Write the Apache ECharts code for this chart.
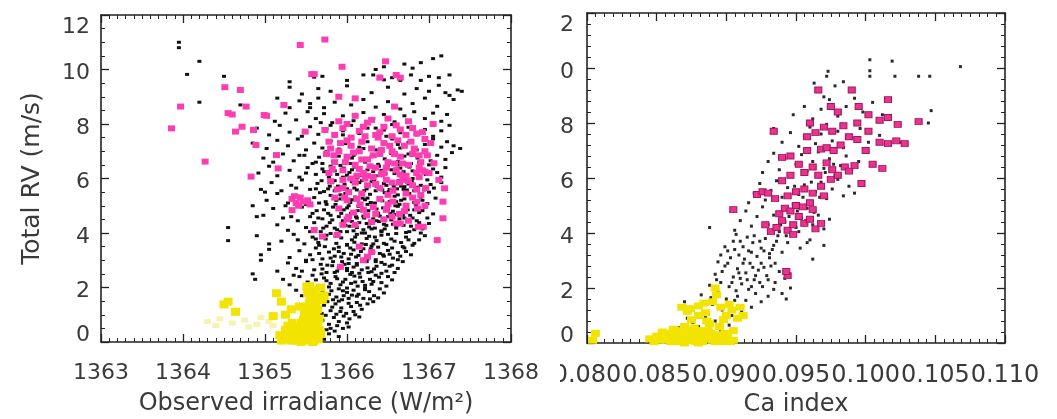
<!DOCTYPE html>
<html><head><meta charset="utf-8">
<script src="https://cdn.jsdelivr.net/npm/echarts@6/dist/echarts.min.js"></script>
<style>
html,body{margin:0;padding:0;background:#fff;width:1057px;height:419px;overflow:hidden;}
#c1{position:absolute;left:0;top:0;width:560px;height:419px;}
#c2{position:absolute;left:560px;top:0;width:497px;height:419px;}
</style></head><body>
<div id="c1"></div><div id="c2"></div>
<script>
// ---------- LEFT PANEL DATA: [observed irradiance (W/m^2), total RV (m/s)] ----------
const leftXTicks = [1363, 1364, 1365, 1366, 1367, 1368];
const leftYTicks = [0, 2, 4, 6, 8, 10, 12];
const leftBlack = [
[1365.72,0.1],[1365.78,0.3],[1365.85,0.4],[1365.9,0.2],[1365.95,0.5],[1365.8,0.5],[1365.75,0.45],[1366.02,0.55],
[1365.62,0.7],[1365.7,0.8],[1365.78,0.65],[1365.84,0.9],[1365.9,0.75],[1365.96,0.95],[1366.03,0.85],[1366.1,1.0],[1365.88,0.6],[1366.15,0.92],[1365.74,0.98],[1366.0,0.7],
[1365.58,1.2],[1365.66,1.1],[1365.72,1.35],[1365.8,1.15],[1365.86,1.4],[1365.93,1.25],[1365.99,1.05],[1366.05,1.3],[1366.12,1.45],[1366.18,1.2],[1366.25,1.4],[1366.32,1.48],[1365.9,1.5],[1366.08,1.12],[1365.76,1.48],
[1365.38,1.9],[1365.45,1.7],[1365.6,1.6],[1365.7,1.85],[1365.78,1.75],[1365.83,1.55],[1365.9,1.95],[1365.96,1.7],[1366.02,1.6],[1366.08,1.9],[1366.14,1.75],[1366.2,1.6],[1366.27,1.85],[1366.33,1.7],[1366.4,1.95],[1366.45,1.8],[1365.87,1.65],[1366.0,1.82],[1366.22,1.98],
[1365.22,2.3],[1365.3,2.1],[1365.42,2.4],[1365.52,2.2],[1365.58,2.45],[1365.65,2.05],[1365.72,2.35],[1365.8,2.15],[1365.86,2.4],[1365.92,2.1],[1365.98,2.3],[1366.04,2.48],[1366.1,2.2],[1366.16,2.38],[1366.22,2.08],[1366.28,2.3],[1366.35,2.45],[1366.42,2.18],[1366.5,2.4],[1366.55,2.28],[1365.95,2.2],[1366.13,2.05],[1366.3,2.12],
[1365.15,2.6],[1365.28,2.9],[1365.38,2.7],[1365.5,2.95],[1365.6,2.65],[1365.68,2.85],[1365.75,2.55],[1365.82,2.8],[1365.88,2.6],[1365.94,2.95],[1366.0,2.7],[1366.06,2.55],[1366.12,2.88],[1366.18,2.65],[1366.24,2.95],[1366.3,2.58],[1366.36,2.78],[1366.42,2.92],[1366.48,2.6],[1366.55,2.82],[1366.62,2.7],[1366.68,2.95],[1366.08,2.75],[1365.97,2.85],
[1364.95,3.2],[1365.05,3.4],[1365.3,3.1],[1365.42,3.35],[1365.55,3.2],[1365.62,3.45],[1365.7,3.05],[1365.78,3.3],[1365.85,3.15],[1365.9,3.48],[1365.96,3.25],[1366.02,3.05],[1366.08,3.38],[1366.14,3.18],[1366.2,3.42],[1366.26,3.1],[1366.32,3.3],[1366.38,3.48],[1366.44,3.2],[1366.5,3.36],[1366.56,3.08],[1366.62,3.28],[1366.7,3.45],[1366.78,3.2],[1366.05,3.22],[1366.35,3.02],
[1364.9,3.9],[1365.2,3.7],[1365.35,3.95],[1365.48,3.6],[1365.58,3.85],[1365.66,3.55],[1365.74,3.78],[1365.8,3.98],[1365.87,3.62],[1365.93,3.82],[1366.0,3.55],[1366.06,3.75],[1366.12,3.95],[1366.18,3.6],[1366.24,3.8],[1366.3,3.52],[1366.36,3.72],[1366.42,3.92],[1366.48,3.58],[1366.54,3.78],[1366.6,3.98],[1366.66,3.65],[1366.72,3.85],[1366.8,3.55],[1366.88,3.75],[1366.95,3.9],[1366.27,3.88],[1366.09,3.66],
[1364.55,4.2],[1364.55,3.72],[1365.15,4.3],[1365.28,4.1],[1365.4,4.45],[1365.5,4.2],[1365.6,4.38],[1365.68,4.05],[1365.75,4.25],[1365.82,4.48],[1365.88,4.12],[1365.94,4.32],[1366.0,4.05],[1366.06,4.42],[1366.12,4.2],[1366.18,4.0],[1366.24,4.35],[1366.3,4.15],[1366.36,4.45],[1366.42,4.08],[1366.48,4.28],[1366.54,4.48],[1366.6,4.18],[1366.66,4.38],[1366.72,4.02],[1366.78,4.25],[1366.85,4.45],[1366.92,4.15],[1367.0,4.35],[1366.03,4.25],[1366.45,4.32],
[1364.98,4.65],[1365.1,4.9],[1365.22,4.55],[1365.32,4.8],[1365.45,4.95],[1365.55,4.6],[1365.63,4.82],[1365.7,4.52],[1365.77,4.72],[1365.83,4.95],[1365.9,4.6],[1365.96,4.85],[1366.02,4.55],[1366.08,4.75],[1366.14,4.98],[1366.2,4.62],[1366.26,4.82],[1366.32,4.52],[1366.38,4.72],[1366.44,4.92],[1366.5,4.6],[1366.56,4.8],[1366.62,4.98],[1366.68,4.65],[1366.74,4.85],[1366.8,4.55],[1366.88,4.75],[1366.95,4.95],[1367.05,4.7],[1366.11,4.6],[1366.59,4.68],
[1365.02,5.2],[1365.15,5.45],[1365.28,5.1],[1365.4,5.35],[1365.5,5.05],[1365.6,5.3],[1365.67,5.48],[1365.74,5.15],[1365.8,5.38],[1365.86,5.05],[1365.92,5.25],[1365.98,5.45],[1366.04,5.12],[1366.1,5.32],[1366.16,5.02],[1366.22,5.22],[1366.28,5.42],[1366.34,5.1],[1366.4,5.3],[1366.46,5.48],[1366.52,5.15],[1366.58,5.35],[1366.64,5.05],[1366.7,5.25],[1366.76,5.45],[1366.82,5.12],[1366.9,5.32],[1366.98,5.08],[1367.08,5.28],[1366.25,5.05],
[1364.95,5.6],[1365.08,5.85],[1365.2,5.55],[1365.32,5.75],[1365.45,5.95],[1365.55,5.6],[1365.64,5.82],[1365.72,5.52],[1365.79,5.72],[1365.85,5.92],[1365.91,5.58],[1365.97,5.78],[1366.03,5.98],[1366.09,5.65],[1366.15,5.85],[1366.21,5.55],[1366.27,5.75],[1366.33,5.95],[1366.39,5.62],[1366.45,5.82],[1366.51,5.52],[1366.57,5.72],[1366.63,5.92],[1366.69,5.6],[1366.75,5.8],[1366.82,5.55],[1366.9,5.75],[1366.98,5.95],[1367.06,5.65],[1367.15,5.85],
[1364.92,6.2],[1365.05,6.45],[1365.15,6.1],[1365.3,6.3],[1365.42,6.05],[1365.52,6.4],[1365.62,6.15],[1365.7,6.35],[1365.78,6.05],[1365.85,6.28],[1365.92,6.48],[1366.0,6.12],[1366.06,6.32],[1366.12,6.02],[1366.2,6.22],[1366.28,6.42],[1366.35,6.1],[1366.42,6.3],[1366.5,6.48],[1366.58,6.18],[1366.65,6.38],[1366.72,6.08],[1366.8,6.28],[1366.88,6.45],[1366.96,6.15],[1367.05,6.35],[1367.15,6.05],[1367.2,6.4],
[1364.98,6.75],[1365.1,6.6],[1365.22,6.9],[1365.35,6.65],[1365.48,6.85],[1365.58,6.55],[1365.66,6.78],[1365.75,6.98],[1365.83,6.62],[1365.9,6.82],[1365.98,6.55],[1366.06,6.75],[1366.14,6.95],[1366.22,6.6],[1366.3,6.8],[1366.38,6.52],[1366.46,6.72],[1366.54,6.92],[1366.62,6.62],[1366.7,6.82],[1366.78,6.55],[1366.86,6.75],[1366.94,6.95],[1367.02,6.65],[1367.1,6.85],[1367.2,6.7],[1367.28,6.95],
[1364.85,7.3],[1365.02,7.1],[1365.15,7.4],[1365.28,7.2],[1365.4,7.45],[1365.5,7.05],[1365.6,7.3],[1365.7,7.12],[1365.8,7.38],[1365.9,7.08],[1365.98,7.28],[1366.06,7.48],[1366.15,7.15],[1366.25,7.35],[1366.35,7.05],[1366.45,7.25],[1366.55,7.45],[1366.65,7.12],[1366.75,7.32],[1366.85,7.05],[1366.95,7.25],[1367.05,7.45],[1367.15,7.15],[1367.22,7.35],[1367.3,7.2],[1367.38,7.1],
[1364.9,7.85],[1365.05,7.6],[1365.18,7.95],[1365.3,7.7],[1365.45,7.55],[1365.55,7.9],[1365.65,7.62],[1365.75,7.82],[1365.85,7.55],[1365.95,7.75],[1366.05,7.95],[1366.15,7.65],[1366.25,7.85],[1366.35,7.58],[1366.45,7.78],[1366.55,7.98],[1366.65,7.68],[1366.75,7.88],[1366.85,7.6],[1366.95,7.8],[1367.05,7.55],[1367.15,7.75],[1367.25,7.95],
[1365.0,8.3],[1365.12,8.1],[1365.25,8.4],[1365.38,8.15],[1365.52,8.45],[1365.62,8.2],[1365.72,8.38],[1365.82,8.05],[1365.95,8.3],[1366.08,8.12],[1366.2,8.42],[1366.32,8.2],[1366.45,8.35],[1366.58,8.08],[1366.7,8.3],[1366.82,8.45],[1366.95,8.2],[1367.05,8.4],[1367.15,8.1],[1367.22,8.35],
[1364.7,8.7],[1365.15,8.95],[1365.3,8.6],[1365.42,8.85],[1365.55,8.75],[1365.65,8.95],[1365.72,8.6],[1365.85,8.8],[1366.05,8.7],[1366.2,8.9],[1366.35,8.62],[1366.5,8.82],[1366.65,8.55],[1366.8,8.75],[1366.95,8.95],[1367.1,8.65],[1367.3,8.9],[1364.2,8.8],
[1365.3,9.35],[1365.45,9.1],[1365.65,9.3],[1365.8,9.2],[1366.0,9.4],[1366.3,9.15],[1366.5,9.35],[1366.7,9.1],[1366.85,9.3],[1367.0,9.2],[1367.12,9.42],[1367.2,9.15],[1367.35,9.25],[1367.4,9.2],[1367.25,9.05],
[1364.5,9.75],[1364.05,9.82],[1365.3,9.55],[1365.6,9.72],[1365.7,9.75],[1366.0,9.6],[1366.2,9.8],[1366.32,9.8],[1366.4,9.75],[1366.45,9.62],[1366.55,9.7],[1366.65,9.6],[1366.78,9.8],[1366.9,9.6],[1367.0,9.75],[1367.12,9.7],[1367.25,9.8],
[1363.95,11.0],[1363.95,10.8],[1364.2,10.3],[1366.9,10.25],[1367.15,10.5],[1367.05,10.4],[1366.35,10.0],[1366.45,10.1],[1366.8,10.05],[1366.7,10.2],
[1364.85,2.5],[1364.88,2.3],[1364.95,3.0],[1364.85,5.0],[1364.9,4.6],[1365.0,5.5],[1365.05,3.6]
];
const leftBlackCore = [
[1365.65,1.95],[1365.75,2.25],[1365.85,2.55],[1365.95,1.88],[1366.05,2.15],[1366.15,2.52],[1366.25,2.72],[1366.35,2.95],[1366.45,3.15],[1365.7,2.68],[1365.8,3.08],[1365.9,3.32],[1366.0,3.58],[1366.1,3.85],[1366.2,4.12],[1366.3,4.38],[1366.4,4.62],[1366.5,4.88],[1366.6,5.15],
[1365.65,3.65],[1365.75,3.92],[1365.85,4.18],[1365.95,4.45],[1366.05,4.72],[1366.15,5.0],[1366.25,5.28],[1366.35,5.55],[1365.55,4.05],[1365.65,4.55],[1365.75,5.05],[1365.85,5.55],[1365.95,6.05],[1366.05,6.55],[1366.7,5.7],[1366.8,6.0],[1366.6,6.35],
[1366.5,3.95],[1366.6,4.25],[1366.7,4.55],[1366.75,3.75],[1366.55,3.45],[1366.4,3.25],[1366.25,3.05],[1366.12,2.82],[1366.0,2.62],[1365.88,2.32],[1365.78,2.02],[1365.68,1.72],[1365.82,1.28],[1365.92,1.12],[1366.02,1.42],[1366.12,1.68],[1366.22,1.92],[1366.32,2.22],[1366.42,2.52],[1366.52,2.78],[1366.62,3.02],[1366.72,3.32],[1366.82,3.62],[1366.9,4.0],[1366.98,4.55],
[1365.5,3.0],[1365.45,2.6],[1365.35,2.45],[1365.4,3.75],[1365.32,4.6],[1365.25,5.0],[1365.38,5.65],[1365.5,6.2],[1365.42,6.85],[1365.62,6.6],[1365.72,6.25],[1365.82,5.85],[1365.92,5.4],[1366.02,5.0],[1366.12,4.55],[1366.22,4.0],[1366.32,3.6],[1366.42,4.05],[1366.52,5.6],[1366.62,5.4],[1366.72,5.05],[1366.82,4.85],[1366.92,5.2],[1367.0,5.5],
[1366.88,6.6],[1366.75,6.9],[1366.62,7.25],[1366.48,7.55],[1366.35,7.85],[1366.2,7.1],[1366.08,6.85],[1365.95,7.6],[1365.8,7.95],[1365.68,8.05],[1365.55,8.6],
[1365.63,1.45],[1365.69,1.05],[1365.74,1.62],[1365.81,1.88],[1365.87,1.02],[1365.94,1.55],[1366.0,1.98],[1366.06,1.72],[1366.16,1.35],[1366.28,1.58],[1366.38,1.62],[1366.48,2.05],[1365.62,2.28],[1365.69,2.5],[1365.76,2.82],[1365.83,2.95],[1365.9,2.7],[1366.02,2.88],[1366.09,2.42],[1366.19,2.22],[1366.26,2.55],[1366.33,2.68],[1366.39,2.38],[1366.46,2.85],[1366.58,2.55],[1366.65,3.15],
[1365.58,3.02],[1365.66,3.25],[1365.73,3.5],[1365.84,3.42],[1365.93,3.12],[1366.04,3.45],[1366.11,3.12],[1366.17,3.32],[1366.23,3.58],[1366.29,3.42],[1366.34,3.85],[1366.45,3.62],[1366.52,3.22],[1366.58,3.7],[1366.68,3.5],[1366.76,4.05],[1365.62,3.78],[1365.71,4.18],[1365.79,4.38],[1365.86,3.88],[1365.92,4.05],[1365.98,4.28],[1366.08,4.08],[1366.15,4.38],[1366.21,4.55],[1366.27,4.22],[1366.34,4.18],[1366.39,4.42],[1366.46,4.15],[1366.56,4.32],[1366.64,4.52],[1366.69,4.28],[1366.82,4.12],[1366.88,4.38],
[1365.58,4.72],[1365.66,5.1],[1365.72,4.85],[1365.8,4.65],[1365.87,5.2],[1365.93,4.72],[1366.0,4.92],[1366.06,5.22],[1366.13,4.82],[1366.19,5.28],[1366.29,5.12],[1366.36,4.88],[1366.43,5.18],[1366.53,4.72],[1366.59,5.0],[1366.66,5.2],[1366.77,4.65],[1366.84,5.02],[1366.92,4.82],
[1365.62,5.62],[1365.69,5.92],[1365.77,5.62],[1365.89,5.72],[1366.0,5.62],[1366.06,5.88],[1366.12,5.58],[1366.18,5.92],[1366.24,5.62],[1366.3,5.88],[1366.36,5.72],[1366.43,5.58],[1366.48,5.75],[1366.55,5.88],[1366.61,5.62],[1366.66,5.72],[1366.73,5.58],[1366.79,5.9],[1366.86,5.68],[1366.94,5.58],[1367.02,5.78],
[1365.7,6.55],[1365.8,6.45],[1365.88,6.15],[1365.96,6.38],[1366.03,6.22],[1366.1,6.42],[1366.17,6.12],[1366.25,6.32],[1366.32,6.25],[1366.39,6.45],[1366.47,6.18],[1366.54,6.32],[1366.62,6.5],[1366.69,6.25],[1366.76,6.42],[1366.84,6.18],[1366.92,6.32],[1367.0,6.5],[1367.1,6.22]
];
const leftMagenta = [
[1363.86,7.84],[1363.97,8.64],[1364.27,6.62],[1364.51,9.35],[1364.55,8.4],[1364.6,8.35],[1364.64,7.72],[1364.7,9.25],[1364.72,7.9],[1364.77,8.64],[1364.83,6.07],[1364.86,7.78],[1364.89,7.23],[1364.99,8.33],[1365.02,8.3],[1365.14,6.86],[1365.16,6.37],[1365.23,8.7],[1365.43,10.9],[1365.73,11.1],[1365.57,9.83],[1365.6,9.83],[1365.9,9.0],[1365.94,10.1],[1366.1,8.94],[1366.47,10.3],[1366.4,9.7],[1366.6,9.8],[1366.58,8.64],[1365.49,7.72],[1365.73,7.78],[1366.65,9.7],
[1365.33,5.25],[1365.38,5.1],[1365.43,5.3],[1365.47,5.15],[1365.52,5.2],[1365.55,5.05],[1365.36,5.35],[1365.33,4.84],[1365.41,5.0],
[1365.6,4.11],[1365.7,3.87],[1365.88,3.93],[1366.25,3.13],[1366.2,3.0],[1365.92,2.76],[1366.3,3.3],[1366.02,4.6],[1365.95,4.3],[1366.15,3.5],
[1367.06,6.56],[1367.12,5.95],[1367.19,5.64],[1367.17,5.15],[1367.17,4.54],[1367.1,3.74],[1366.93,4.23],[1366.87,4.23],[1366.75,4.45],[1366.65,4.35],[1366.55,4.6],[1366.95,5.0],[1366.9,5.4],
[1365.75,6.9],[1365.8,7.1],[1365.85,6.6],[1365.9,7.0],[1365.95,6.3],[1366.0,6.8],[1366.05,7.2],[1366.1,6.5],[1366.15,7.0],[1366.2,6.2],[1366.25,6.7],[1366.3,7.1],[1366.35,6.4],[1366.4,6.9],[1366.45,7.3],[1366.5,6.6],[1366.55,7.0],[1366.6,6.3],[1366.65,6.8],[1366.7,7.2],[1366.75,6.5],[1366.8,6.9],[1366.85,6.2],[1366.9,6.6],[1366.95,7.0],
[1365.8,5.9],[1365.88,5.6],[1365.95,5.95],[1366.02,5.5],[1366.1,5.85],[1366.18,5.45],[1366.25,5.75],[1366.32,6.05],[1366.4,5.65],[1366.48,5.95],[1366.56,5.55],[1366.64,5.85],[1366.72,5.45],[1366.8,5.75],[1366.88,6.05],[1366.96,5.65],
[1365.9,4.9],[1366.0,5.2],[1366.08,4.75],[1366.16,5.05],[1366.24,4.65],[1366.32,4.95],[1366.4,5.25],[1366.48,4.85],[1366.56,5.15],[1366.64,4.7],[1366.72,5.0],[1366.8,5.3],[1366.86,4.9],
[1365.85,7.6],[1365.95,7.85],[1366.05,7.5],[1366.15,7.75],[1366.25,8.05],[1366.35,7.6],[1366.45,7.9],[1366.55,7.55],[1366.65,7.8],[1366.75,8.1],[1366.85,7.65],[1366.95,7.45],[1366.5,8.2],[1366.3,8.15],
[1365.82,6.35],[1365.98,6.6],[1366.12,6.1],[1366.28,6.45],[1366.42,6.15],[1366.58,6.55],[1366.72,6.1],[1366.88,6.4],[1366.38,7.5],[1366.62,7.4],[1366.18,7.35],[1366.78,7.35],[1365.9,8.1],[1366.1,8.3],[1365.97,5.3],[1366.12,5.25],[1366.5,5.4],[1366.68,5.95],[1366.22,6.0],[1366.6,4.35],[1366.45,4.5],[1366.3,4.4],[1366.1,4.3],[1366.98,6.85],[1367.02,7.3],[1366.92,7.7],[1367.05,8.0],
[1365.78,6.2],[1365.84,6.85],[1365.92,7.3],[1366.0,7.4],[1366.08,6.95],[1366.18,6.7],[1366.22,7.55],[1366.32,6.85],[1366.42,7.05],[1366.48,6.4],[1366.52,7.2],[1366.58,6.9],[1366.68,6.55],[1366.72,7.6],[1366.82,7.1],[1366.88,6.85],[1366.92,6.3],[1367.0,6.2],
[1365.85,5.3],[1365.95,5.65],[1366.05,6.0],[1366.15,6.35],[1366.25,6.1],[1366.35,5.8],[1366.45,6.2],[1366.55,5.85],[1366.65,6.15],[1366.75,5.9],[1366.85,5.6],[1366.95,6.25],[1366.0,4.5],[1366.2,4.85],[1366.35,4.7],[1366.5,5.05],[1366.7,4.8],[1366.85,5.15],[1366.4,7.7],[1366.6,7.95],[1366.8,7.85],[1366.2,7.9],[1366.0,8.0],[1365.78,7.35]
];
const leftYellow = [
[1365.22,0.1],[1365.28,0.3],[1365.32,0.05],[1365.36,0.2],[1365.4,0.4],[1365.42,0.1],[1365.46,0.25],[1365.5,0.05],[1365.52,0.35],[1365.55,0.15],[1365.58,0.45],[1365.6,0.05],[1365.62,0.25],[1365.65,0.1],[1365.3,0.55],[1365.35,0.5],[1365.45,0.6],[1365.5,0.7],[1365.55,0.65],[1365.6,0.75],[1365.64,0.55],[1365.48,0.5],[1365.38,0.35],[1365.25,0.45],[1365.18,0.25],[1365.44,0.0],[1365.58,0.0],[1365.68,0.3],
[1365.52,0.9],[1365.56,1.1],[1365.6,1.0],[1365.5,1.3],[1365.58,1.35],[1365.62,1.5],[1365.55,1.6],[1365.52,1.8],[1365.6,1.9],[1365.55,2.05],[1365.64,1.2],[1365.48,1.05],[1365.66,0.85],
[1364.55,1.48],[1364.5,1.38],[1364.64,1.11],[1365.14,1.79],[1365.2,1.48],[1365.51,2.03],[1365.7,1.54],[1365.72,1.7],[1365.42,1.3],[1365.57,0.97],[1365.32,1.2],[1365.25,1.0],[1365.1,0.95],[1365.68,2.0],
[1365.2,0.05],[1365.24,0.22],[1365.27,0.4],[1365.31,0.15],[1365.34,0.32],[1365.37,0.05],[1365.39,0.55],[1365.41,0.25],[1365.44,0.4],[1365.47,0.12],[1365.49,0.32],[1365.53,0.5],[1365.56,0.3],[1365.59,0.6],[1365.61,0.4],[1365.63,0.15],[1365.66,0.45],[1365.54,0.85],[1365.58,0.8],[1365.62,0.95],[1365.5,0.95],[1365.53,1.15],[1365.57,1.25],[1365.61,1.3],[1365.54,1.4],[1365.58,1.55],[1365.62,1.7],[1365.56,1.85],[1365.47,0.8],[1365.44,0.7],[1365.33,0.7],[1365.28,0.6]
];
const leftYellowFaint = [
[1364.3,0.75],[1364.45,0.85],[1364.6,0.7],[1364.75,0.8],[1364.9,0.65],[1365.05,0.75],[1364.8,0.55],[1364.95,0.9],[1364.4,0.6],[1365.1,0.6]
];

// ---------- RIGHT PANEL DATA: [Ca index, total RV (m/s)] ----------
const rightXTicks = [0.080, 0.085, 0.090, 0.095, 0.100, 0.105, 0.110];
const rightYTicks = [0, 2, 4, 6, 8, 10, 12];
const rightBlack = [
[0.0872,0.9],[0.0876,0.75],[0.0880,0.6],[0.0885,0.95],[0.0888,0.5],[0.0892,0.8],[0.0878,0.3],[0.0884,0.2],[0.0896,0.45],[0.0902,0.65],[0.0866,0.55],[0.0898,0.2],
[0.0870,1.5],[0.0876,1.2],[0.0882,1.75],[0.0887,1.05],[0.0890,1.4],[0.0894,1.85],[0.0897,1.2],[0.0900,1.6],[0.0904,1.0],[0.0907,1.9],[0.0911,1.15],[0.0914,1.55],[0.0918,1.3],[0.0921,1.8],[0.0925,1.5],[0.0930,1.7],[0.0934,1.95],[0.0940,1.8],[0.0943,1.6],[0.0903,1.35],[0.0908,1.7],
[0.0888,2.1],[0.0892,2.5],[0.0896,2.2],[0.0899,2.8],[0.0902,2.05],[0.0905,2.4],[0.0908,2.7],[0.0911,2.15],[0.0914,2.55],[0.0917,2.9],[0.0920,2.3],[0.0923,2.65],[0.0926,2.05],[0.0929,2.45],[0.0932,2.8],[0.0935,2.2],[0.0938,2.6],[0.0942,2.35],[0.0946,2.0],[0.0894,2.95],[0.0910,2.35],[0.0918,2.05],[0.0925,2.9],
[0.0896,3.2],[0.0899,3.5],[0.0903,3.1],[0.0906,3.4],[0.0910,3.7],[0.0913,3.05],[0.0916,3.35],[0.0919,3.65],[0.0922,3.15],[0.0925,3.45],[0.0928,3.8],[0.0931,3.25],[0.0934,3.55],[0.0937,3.9],[0.0940,3.3],[0.0944,3.65],[0.0948,3.95],[0.0953,3.45],[0.0920,3.9],[0.0907,3.95],[0.0962,3.05],[0.0958,3.65],[0.0970,3.55],
[0.0888,4.2],[0.0906,4.1],[0.0910,4.45],[0.0914,4.8],[0.0918,4.25],[0.0922,4.6],[0.0926,4.95],[0.0930,4.3],[0.0934,4.65],[0.0938,4.05],[0.0942,4.4],[0.0946,4.75],[0.0950,4.2],[0.0954,4.55],[0.0958,4.9],[0.0962,4.3],[0.0966,4.65],[0.0970,4.15],[0.0974,4.5],[0.0960,3.75],
[0.0916,5.1],[0.0920,5.45],[0.0924,5.8],[0.0928,5.2],[0.0932,5.55],[0.0936,5.9],[0.0940,5.3],[0.0944,5.65],[0.0948,5.05],[0.0952,5.4],[0.0956,5.75],[0.0960,5.15],[0.0964,5.5],[0.0968,5.85],[0.0972,5.25],[0.0976,5.6],[0.0980,5.95],[0.0984,5.35],[0.0988,5.7],[0.0992,5.45],
[0.0926,6.2],[0.0930,6.6],[0.0934,6.9],[0.0938,6.3],[0.0942,6.7],[0.0946,6.1],[0.0950,6.5],[0.0954,6.85],[0.0958,6.25],[0.0962,6.6],[0.0966,6.95],[0.0970,6.35],[0.0974,6.7],[0.0978,6.1],[0.0982,6.45],[0.0986,6.8],[0.0990,6.3],[0.0995,6.6],
[0.0934,7.8],[0.0940,7.3],[0.0946,7.65],[0.0952,7.15],[0.0956,7.5],[0.0960,7.85],[0.0964,7.25],[0.0968,7.6],[0.0972,7.95],[0.0976,7.35],[0.0980,7.7],[0.0984,7.1],[0.0990,7.45],[0.0996,7.8],[0.1002,7.3],[0.1010,7.55],[0.1025,7.3],[0.1045,8.0],
[0.0948,8.3],[0.0956,8.6],[0.0962,8.15],[0.0968,8.5],[0.0974,8.85],[0.0980,8.25],[0.0986,8.6],[0.0992,8.9],[0.0998,8.4],[0.1005,8.75],[0.1012,8.3],[0.1047,8.45],[0.0970,8.95],
[0.0963,9.45],[0.0972,9.7],[0.0978,9.35],[0.0984,9.5],[0.1003,9.7],[0.1003,9.9],[0.1021,9.7],[0.1038,9.7],[0.1046,9.7],[0.0973,9.88],[0.1003,10.3],[0.1019,10.25],[0.1068,10.05],[0.0990,9.2],
[0.0889,1.65],[0.0893,2.3],[0.0897,2.6],[0.0901,2.9],[0.0904,2.2],[0.0906,1.55],[0.0909,2.55],[0.0912,2.9],[0.0915,2.3],[0.0916,1.95],[0.0919,2.75],[0.0921,2.45],[0.0924,2.2],[0.0927,2.75],[0.0930,2.3],[0.0931,3.1],[0.0935,2.9],[0.0901,3.35],[0.0905,3.7],[0.0909,3.2],[0.0912,3.5],[0.0915,3.85],[0.0918,3.3],[0.0924,3.7],[0.0927,3.35],[0.0933,3.4],[0.0936,3.7],[0.0939,4.3],[0.0943,3.9],[0.0952,4.05],[0.0945,4.6],[0.0951,4.8],[0.0957,4.45],[0.0963,4.75],[0.0949,5.7],[0.0955,5.3],[0.0961,5.85],[0.0967,5.3],[0.0971,6.2],[0.0977,6.5]
];
const rightMagenta = [
[0.0905,4.85],[0.0922,5.4],[0.0926,5.5],[0.0930,5.45],[0.0935,5.25],[0.0928,4.3],[0.0932,4.05],[0.0936,4.2],[0.0940,4.45],[0.0944,4.1],[0.0948,4.3],[0.0952,4.6],[0.0956,4.35],[0.0960,4.5],[0.0964,4.15],[0.0968,4.35],[0.0938,4.7],[0.0942,4.9],[0.0946,4.8],[0.0950,5.0],[0.0955,4.95],[0.0960,5.1],
[0.0944,5.35],[0.0950,5.5],[0.0956,5.6],[0.0962,5.45],[0.0968,5.7],[0.0946,6.1],[0.0952,6.5],[0.0956,6.2],[0.0962,6.4],[0.0966,6.1],[0.0972,6.55],[0.0976,6.3],[0.0980,6.1],[0.0985,6.4],[0.0988,6.25],[0.0992,6.45],[0.0997,5.8],[0.1005,6.5],[0.1012,6.35],
[0.0940,6.75],[0.0946,6.8],[0.0968,7.05],[0.0972,7.1],[0.0977,7.0],[0.0982,7.2],[0.0988,7.5],[0.0994,7.4],[0.1002,7.7],[0.1010,7.3],[0.1016,7.25],[0.1022,7.35],[0.1028,7.25],[0.0958,7.5],[0.0964,7.65],[0.0970,7.85],[0.0976,7.7],[0.0984,7.9],[0.0994,8.0],
[0.1002,8.3],[0.1010,8.1],[0.1016,8.2],[0.1023,7.95],[0.1038,8.05],[0.0934,7.7],[0.0966,9.2],[0.0990,9.2],[0.0975,8.6],[0.0980,8.4],[0.1016,8.85],[0.0995,8.6],[0.0958,7.0],[0.0960,8.0],[0.0940,5.9],[0.0970,5.35],[0.0962,4.85],[0.0948,3.95],[0.0944,2.45],[0.0943,2.6],[0.1000,7.0],[0.0975,5.95]
];
const rightYellow = [
[0.0852,0.1],[0.0856,0.2],[0.0860,0.05],[0.0863,0.3],[0.0866,0.15],[0.0869,0.4],[0.0872,0.1],[0.0875,0.25],[0.0878,0.05],[0.0881,0.35],[0.0884,0.15],[0.0887,0.45],[0.0890,0.1],[0.0893,0.3],[0.0897,0.05],[0.0901,0.2],[0.0905,0.1],[0.0862,0.5],[0.0870,0.6],[0.0877,0.55],[0.0858,0.35],[0.0848,0.05],[0.0845,0.15],[0.0880,0.0],[0.0870,0.0],
[0.0868,1.3],[0.0874,1.25],[0.0880,1.35],[0.0885,1.1],[0.0890,1.5],[0.0893,1.75],[0.0896,1.3],[0.0900,1.0],[0.0904,1.2],[0.0908,0.9],[0.0886,0.8],[0.0895,0.6],[0.0912,1.0],[0.0905,0.45],[0.0892,2.0],[0.0880,1.0],[0.0875,0.85],[0.0804,0.1],[0.0806,0.35],
[0.0850,0.25],[0.0854,0.4],[0.0857,0.1],[0.0861,0.25],[0.0864,0.05],[0.0867,0.3],[0.0871,0.2],[0.0874,0.4],[0.0876,0.1],[0.0879,0.3],[0.0883,0.05],[0.0886,0.25],[0.0889,0.35],[0.0892,0.05],[0.0895,0.2],[0.0899,0.35],[0.0903,0.05],[0.0866,0.45],[0.0873,0.5],[0.0882,0.45],[0.0888,0.7],[0.0898,0.85],[0.0902,1.4],[0.0910,1.3],[0.0884,1.45],[0.0872,1.15]
];

const FONT = 'DejaVu Sans';
const TXT = '#3a3a3a';
const LINE = '#222';

function yLabelFmt(v) {
  if (v === 12) return '{t|12}';
  if (v === 0) return '{b|0}';
  return '{m|' + v + '}';
}
function yRich(size) {
  return {
    t: { fontSize: size, fontFamily: FONT, color: TXT, padding: [24, 0, 0, 0] },
    m: { fontSize: size, fontFamily: FONT, color: TXT, padding: [8, 0, 0, 0] },
    b: { fontSize: size, fontFamily: FONT, color: TXT, padding: [0, 0, 14, 0] }
  };
}

function axisCommon(min, max, interval, minorSplit, pos) {
  return {
    type: 'value', min: min, max: max, interval: interval, position: pos,
    axisLine: { show: true, onZero: false, lineStyle: { color: LINE, width: 1.6 } },
    axisTick: { show: true, inside: true, length: 8, lineStyle: { color: LINE, width: 1.3 } },
    minorTick: { show: true, splitNumber: minorSplit, length: 4, lineStyle: { color: LINE, width: 1 } },
    splitLine: { show: false }, minorSplitLine: { show: false }
  };
}

function buildOption(p) {
  const xb = Object.assign(axisCommon(p.xTicks[0], p.xTicks[p.xTicks.length - 1], p.xTicks[1] - p.xTicks[0], p.xMinor, 'bottom'), {
    axisLabel: { show: true, margin: p.xLabelMargin, fontSize: p.xLabelSize, fontFamily: FONT, color: TXT,
      showMinLabel: true, showMaxLabel: true, hideOverlap: false, formatter: p.xFmt },
    name: p.xName, nameLocation: 'middle', nameGap: p.xNameGap,
    nameTextStyle: { fontSize: 24, fontFamily: FONT, color: TXT }
  });
  const xt = Object.assign(axisCommon(p.xTicks[0], p.xTicks[p.xTicks.length - 1], p.xTicks[1] - p.xTicks[0], p.xMinor, 'top'), {
    axisLabel: { show: false }
  });
  const yl = Object.assign(axisCommon(p.yTicks[0], p.yTicks[p.yTicks.length - 1], p.yTicks[1] - p.yTicks[0], p.yMinor, 'left'), {
    axisLabel: { show: true, margin: p.yLabelMargin, fontSize: 22, fontFamily: FONT, color: TXT,
      showMinLabel: true, showMaxLabel: true, hideOverlap: false, formatter: yLabelFmt, rich: yRich(22) },
    name: p.yName, nameLocation: 'middle', nameGap: p.yNameGap,
    nameTextStyle: { fontSize: 25, fontFamily: FONT, color: TXT }
  });
  const yr = Object.assign(axisCommon(p.yTicks[0], p.yTicks[p.yTicks.length - 1], p.yTicks[1] - p.yTicks[0], p.yMinor, 'right'), {
    axisLabel: { show: false }
  });
  return {
    animation: false,
    backgroundColor: 'transparent',
    grid: Object.assign({ containLabel: false, outerBoundsMode: 'none' }, p.grid),
    xAxis: [xb, xt],
    yAxis: [yl, yr],
    series: p.series.map(s => ({
      type: 'scatter', xAxisIndex: 0, yAxisIndex: 0, silent: true,
      symbol: 'rect', symbolSize: s.size, data: s.data,
      itemStyle: Object.assign({ color: s.color, opacity: 1 }, s.border ? { borderColor: s.border, borderWidth: 1 } : {})
    }))
  };
}

const c1 = echarts.init(document.getElementById('c1'), null, { renderer: 'canvas' });
c1.setOption(buildOption({
  grid: { left: 101, top: 15, width: 410, height: 327 },
  xTicks: leftXTicks, yTicks: leftYTicks, xMinor: 10, yMinor: 4,
  xLabelMargin: 20, xLabelSize: 22, xFmt: v => String(Math.round(v)),
  xName: 'Observed irradiance (W/m\u00B2)', xNameGap: 50,
  yName: 'Total RV (m/s)', yNameGap: 56, yLabelMargin: 11,
  series: [
    { data: leftBlack, size: [4, 3], color: '#111' },
    { data: leftBlackCore, size: [4, 3], color: '#111' },
    { data: leftMagenta, size: [7, 6], color: '#ff3db2' },
    { data: leftYellowFaint, size: [7, 5], color: '#f8f2b0' },
    { data: leftYellow, size: [9, 8], color: '#f3e400' }
  ]
}));

const c2 = echarts.init(document.getElementById('c2'), null, { renderer: 'canvas' });
c2.setOption(buildOption({
  grid: { left: 27, top: 13, width: 418, height: 330 },
  xTicks: rightXTicks, yTicks: rightYTicks, xMinor: 8, yMinor: 5,
  xLabelMargin: 21, xLabelSize: 24, xFmt: v => v.toFixed(3),
  xName: 'Ca index', xNameGap: 49,
  yName: '', yNameGap: 50, yLabelMargin: 13,
  series: [
    { data: rightBlack, size: [3, 3], color: '#2a2a2a' },
    { data: rightMagenta, size: [7, 6], color: '#e8348f', border: '#a8155f' },
    { data: rightYellow, size: [9, 7], color: '#f3e400' }
  ]
}));
</script>
</body></html>
